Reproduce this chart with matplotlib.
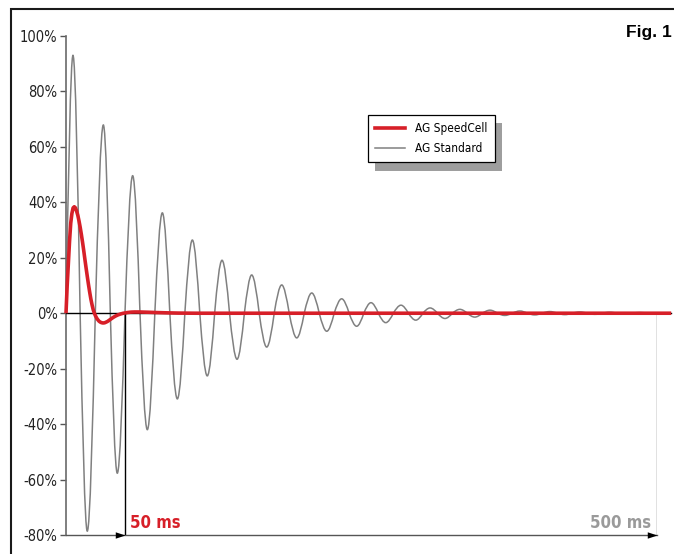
import numpy as np
import matplotlib
matplotlib.use("Agg")
import matplotlib.pyplot as plt
from matplotlib.path import Path
from matplotlib.patches import PathPatch, Rectangle
from matplotlib.lines import Line2D
from matplotlib import font_manager as fm

# ---------------- data ----------------
# AG Standard: extremes of the damped oscillation (time in ms, value in %)
std_ext_ms = [5.9, 18.0, 31.6, 43.4, 56.4, 68.8, 81.5, 94.2, 106.9, 119.5,
              132.0, 144.7, 157.1, 169.8, 182.5, 195.2, 207.9, 220.6, 233.2, 245.9,
              258.0, 270.5, 283.4, 295.9, 308.0, 320.6, 333.2, 345.8, 358.7, 371.2,
              384.0, 396.6, 409.3, 422.0, 434.7, 447.4, 460.0, 472.7, 485.4, 498.0]
std_ext_pct = [93.0, -78.6, 67.9, -57.7, 49.6, -42.0, 36.2, -30.9, 26.4, -22.6,
               19.1, -16.6, 13.8, -12.2, 10.2, -8.9, 7.3, -6.5, 5.2, -4.7,
               3.8, -3.4, 2.9, -2.5, 1.9, -1.9, 1.4, -1.4, 1.1, -0.8,
               0.8, -0.6, 0.6, -0.5, 0.45, -0.4, 0.35, -0.3, 0.25, -0.2]
std_start = (0.0, 0.0)
std_end = (500.0, -0.15)

# AG SpeedCell response (time in ms, value in %)
speed_ms = [0, 0.5, 1, 2, 3, 4, 5, 6, 7, 8, 9, 10, 11, 12, 13, 14, 15, 16, 17, 18,
            19, 20, 21, 22, 23, 24, 25, 26, 27, 28, 29, 30, 31, 32, 33, 34, 35, 36,
            38, 40, 42, 44, 46, 48, 50, 52, 55, 58, 62, 66, 70, 76, 84, 95, 110, 512]
speed_pct = [0, 5, 10, 18, 26, 32.5, 36, 38, 38.4, 38, 36.8, 35.3, 33.3, 31, 28.4,
             25.6, 22.6, 19.4, 16.3, 13.3, 10.4, 7.7, 5.2, 3.1, 1.3, 0, -1.0, -1.8,
             -2.4, -2.9, -3.2, -3.4, -3.5, -3.5, -3.4, -3.2, -3.0, -2.7, -2.1, -1.5,
             -1.0, -0.6, -0.3, -0.05, 0.1, 0.25, 0.4, 0.45, 0.45, 0.4, 0.35, 0.25,
             0.15, 0.05, 0, 0]

ytick_vals = [-80, -60, -40, -20, 0, 20, 40, 60, 80, 100]
ytick_labels = ["-80%", "-60%", "-40%", "-20%", "0%", "20%", "40%", "60%", "80%", "100%"]
series_names = ["AG SpeedCell", "AG Standard"]
marker_ms = [50, 500]
marker_labels = ["50 ms", "500 ms"]
fig_title = "Fig. 1"


# ---------------- font selection: a condensed face if one is installed ----------------
def _is_bold(w):
    try:
        return int(w) >= 600
    except (TypeError, ValueError):
        return str(w).lower() in ("bold", "heavy", "black", "demibold", "semibold", "extra bold")


def condensed_font(bold, size):
    entries = fm.fontManager.ttflist
    prefs = [
        lambda f: f.name == "Liberation Sans Narrow",
        lambda f: f.name.startswith("DejaVu Sans") and "condensed" in str(f.stretch).lower()
        and "mono" not in f.name.lower(),
        lambda f: "condensed" in f.name.lower() and "mono" not in f.name.lower(),
        lambda f: "narrow" in f.name.lower(),
        lambda f: "condensed" in str(f.stretch).lower() and "mono" not in f.name.lower()
        and "serif" not in f.name.lower(),
    ]
    for p in prefs:
        cands = [f for f in entries if p(f) and "oblique" not in f.fname.lower()
                 and "italic" not in f.fname.lower() and str(f.style) == "normal"]
        if cands:
            match = [f for f in cands if _is_bold(f.weight) == bold]
            f = (match or cands)[0]
            return fm.FontProperties(fname=f.fname, size=size)
    return fm.FontProperties(family="DejaVu Sans", size=size * 0.88,
                             weight="bold" if bold else "normal")


# ---------------- styling ----------------
RED = "#d71f28"
GRAY = "#808080"

fig = plt.figure(figsize=(6.74, 5.54), dpi=100)
W, H = 674, 554
ax = fig.add_axes([66 / W, (H - 535) / H, 591 / W, (535 - 36) / H])
ax.set_xlim(0, 500)
ax.set_ylim(-80, 100)
ax.patch.set_alpha(0)

# smooth path through the extremes of the standard curve (quarter-wave Bezier pieces)
verts = [std_start]
codes = [Path.MOVETO]
k = np.pi / 6
z_prev = std_start[0]
for i, (te, A) in enumerate(zip(std_ext_ms, std_ext_pct)):
    dt = te - z_prev
    verts += [(z_prev + dt / 3, A * k), (te - dt / 3, A), (te, A)]
    codes += [Path.CURVE4] * 3
    if i + 1 < len(std_ext_ms):
        z = (te + std_ext_ms[i + 1]) / 2
        dt = z - te
        verts += [(te + dt / 3, A), (z - dt / 3, A * k), (z, 0.0)]
        codes += [Path.CURVE4] * 3
        z_prev = z
verts.append(std_end)
codes.append(Path.LINETO)
std_patch = PathPatch(Path(verts, codes), fill=False, edgecolor=GRAY, lw=1.1,
                      transform=ax.transData, zorder=2)
ax.add_patch(std_patch)

# zero line
ax.plot([0, 512], [0, 0], color="black", lw=1.0, zorder=3, clip_on=False)

# speed cell curve
ax.plot(speed_ms, speed_pct, color=RED, lw=2.6, zorder=4, clip_on=False,
        solid_capstyle="butt")

# marker verticals
ax.vlines(marker_ms[0], -80, 0, color="black", lw=1.0, zorder=3)
ax.vlines(marker_ms[1], -80, 0, color="#666666", lw=1.0, zorder=3)

# arrow heads on the time axis
head = [(0, 0), (-1, 0.33), (-1, -0.33), (0, 0)]
for m in marker_ms:
    ax.plot([m], [-80], marker=head, markersize=14, color="black",
            markeredgewidth=0, clip_on=False, zorder=5)

fp_mark = condensed_font(True, 12)
ax.annotate(marker_labels[0], xy=(marker_ms[0], -80), xytext=(3.8, 5.2),
            textcoords="offset points", ha="left", va="baseline",
            color=RED, fontproperties=fp_mark)
ax.annotate(marker_labels[1], xy=(marker_ms[1], -80), xytext=(-4.3, 5.2),
            textcoords="offset points", ha="right", va="baseline",
            color="#9a9a9a", fontproperties=fp_mark)

# axes
for s in ["top", "right"]:
    ax.spines[s].set_visible(False)
ax.spines["left"].set_color("#6a6a6a")
ax.spines["left"].set_linewidth(1.2)
ax.spines["bottom"].set_color("#555555")
ax.spines["bottom"].set_linewidth(1.0)
ax.set_xticks([])
ax.set_yticks(ytick_vals)
ax.set_yticklabels(ytick_labels, color="#222222")
fp_tick = condensed_font(False, 10.5)
for lbl in ax.get_yticklabels():
    lbl.set_fontproperties(fp_tick)
ax.tick_params(axis="y", length=4, width=1.0, color="#555555", pad=2)

# legend
handles = [Line2D([], [], color=RED, lw=2.6), Line2D([], [], color=GRAY, lw=1.1)]
leg = ax.legend(handles, series_names, loc="upper left",
                bbox_to_anchor=((368 - 66) / 591, (535 - 115) / 499),
                borderaxespad=0, frameon=True, fancybox=False,
                prop=condensed_font(False, 8.5),
                handlelength=2.5, handletextpad=0.9, labelspacing=0.6,
                borderpad=0.6,
                shadow={"ox": 5, "oy": -6, "facecolor": "#9e9e9e",
                        "edgecolor": "none", "alpha": 1})
leg.get_frame().set_edgecolor("black")
leg.get_frame().set_linewidth(0.9)
leg.set_zorder(10)

# figure frame and title
fig.add_artist(Rectangle((11 / W, -0.2), 2, 1.2 - 9 / H, transform=fig.transFigure,
                         fill=False, edgecolor="#1a1a1a", lw=1.5, clip_on=False))
fig.text(672 / W, 1 - 37.5 / H, fig_title, ha="right", va="baseline",
         fontsize=12.5, fontweight="bold", family=["Liberation Sans", "DejaVu Sans"])

fig.savefig("out.png", dpi=100)
